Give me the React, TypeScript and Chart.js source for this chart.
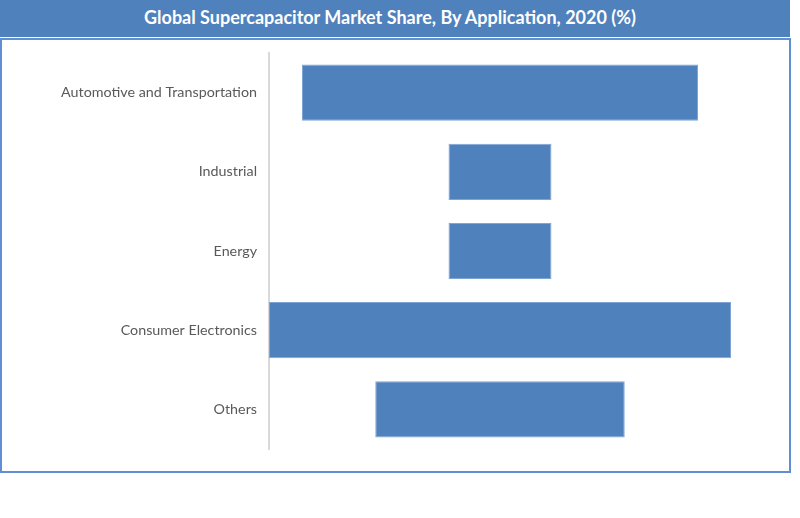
import React, { useEffect, useRef } from 'react';
import { Chart, registerables } from 'chart.js';

Chart.register(...registerables);

const title = 'Global Supercapacitor Market Share, By Application, 2020 (%)';
const categories = ['Automotive and Transportation', 'Industrial', 'Energy', 'Consumer Electronics', 'Others'];
const shares = [30, 7.8, 7.8, 35, 18.9];

const BLUE = '#4F81BD';

const App: React.FC = () => {
  const canvasRef = useRef<HTMLCanvasElement>(null);

  useEffect(() => {
    document.body.style.margin = '0';
    const ctx = canvasRef.current?.getContext('2d');
    if (!ctx) return;
    const half = Math.max(...shares) / 2;
    const chart = new Chart(ctx, {
      type: 'bar',
      data: {
        labels: categories,
        datasets: [{
          label: 'Share (%)',
          // centred floating bars, funnel style
          data: shares.map(v => [-v / 2, v / 2]) as any,
          backgroundColor: BLUE,
          borderColor: '#7FA5D5',
          borderWidth: 1,
          borderSkipped: false,
          categoryPercentage: 1,
          barPercentage: 0.71,
        }],
      },
      options: {
        indexAxis: 'y',
        animation: false,
        responsive: true,
        maintainAspectRatio: false,
        layout: { padding: { top: 53, bottom: 69, right: 69, left: 0 } },
        plugins: { legend: { display: false }, tooltip: { enabled: false }, title: { display: false } },
        scales: {
          x: { display: false, min: -half, max: half },
          y: {
            grid: { display: false, drawTicks: false },
            border: { display: true, color: '#D9D9D9', width: 2 },
            ticks: { color: '#595959', padding: 12, font: { family: 'Lato', size: 14.3 } },
            afterFit: (scale: any) => { scale.width = 269; },
          },
        },
      },
    });
    return () => chart.destroy();
  }, []);

  return (
    <div style={{ position: 'relative', width: 800, height: 518, background: '#fff', overflow: 'hidden' }}>
      <div style={{ position: 'absolute', left: 0, top: 38, width: 787, height: 431, border: '2px solid #5F8FD2' }} />
      <div style={{
        position: 'absolute', left: 0, top: 0, width: 790, height: 37, background: BLUE,
        color: '#fff', fontFamily: 'Lato', fontWeight: 'bold', fontSize: 18,
        display: 'flex', alignItems: 'center', justifyContent: 'center', paddingRight: 10, paddingBottom: 3, boxSizing: 'border-box',
      }}>{title}</div>
      <div style={{ position: 'absolute', left: 0, top: 0, width: 800, height: 518 }}>
        <canvas ref={canvasRef}></canvas>
      </div>
    </div>
  );
};

export default App;
